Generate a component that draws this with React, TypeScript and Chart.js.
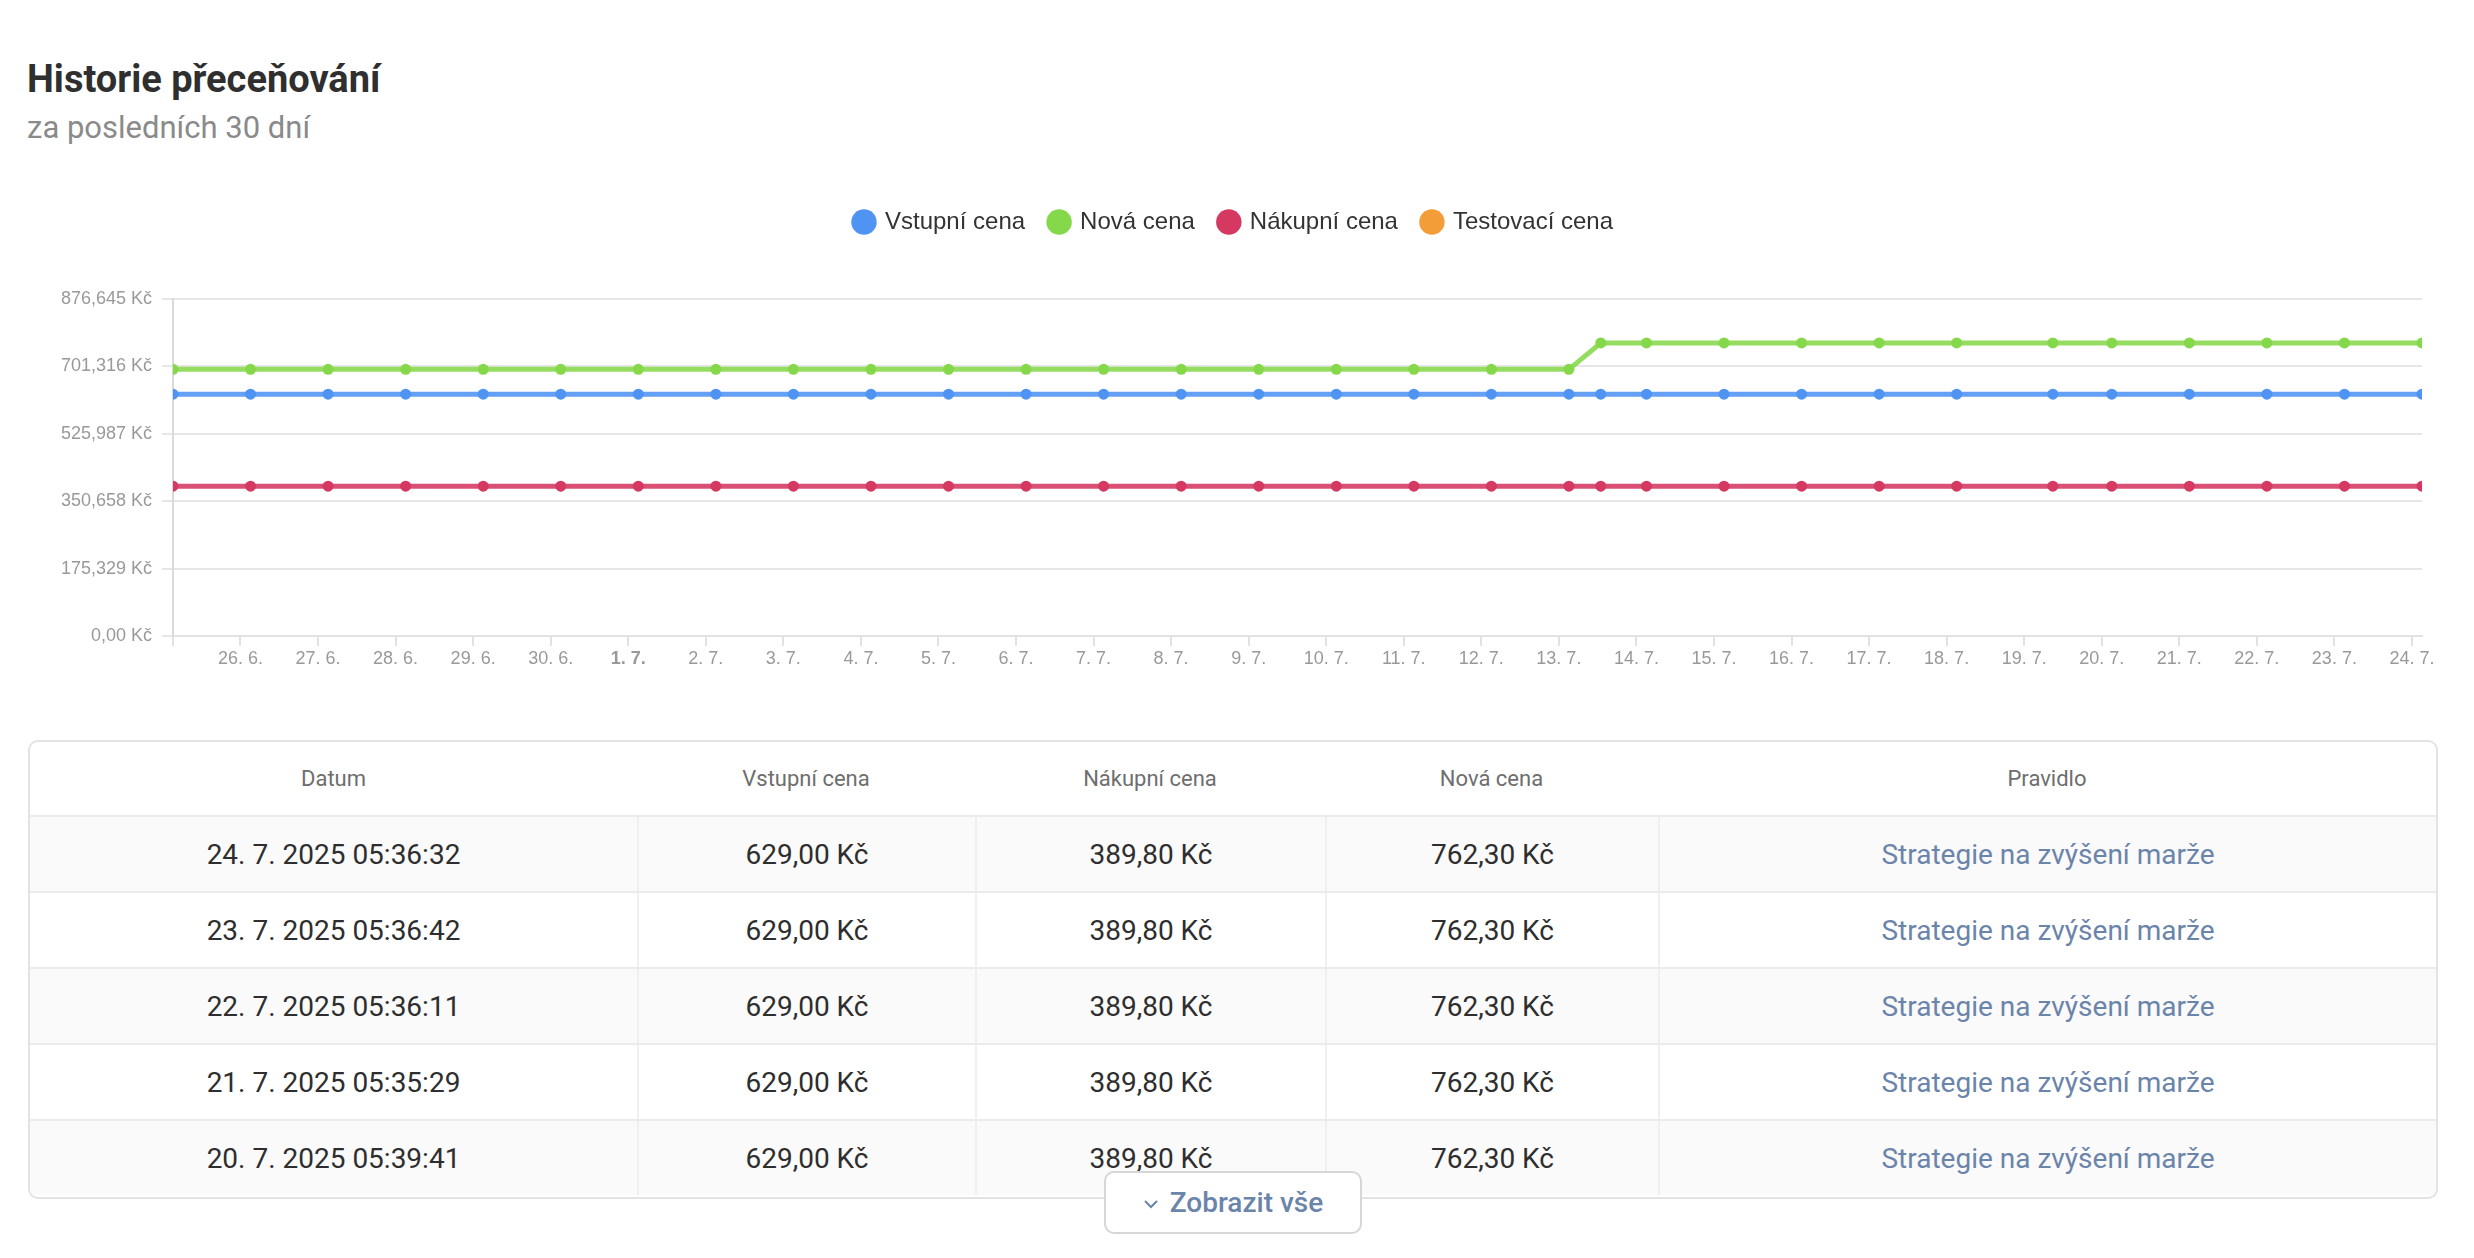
import React, { useEffect, useRef } from 'react';
import { Chart, registerables } from 'chart.js';

Chart.register(...registerables);

const CHART_FONT = '"Liberation Sans", Arial, Helvetica, sans-serif';
const UI_FONT = 'Roboto, "Noto Sans", sans-serif';

// ---------- chart data ----------
const axisStartDate = '2025-06-25';

const timestamps = [
  '2025-06-25 03:07', '2025-06-26 03:07', '2025-06-27 03:07', '2025-06-28 03:07',
  '2025-06-29 03:07', '2025-06-30 03:07', '2025-07-01 03:07', '2025-07-02 03:07',
  '2025-07-03 03:07', '2025-07-04 03:07', '2025-07-05 03:07', '2025-07-06 03:07',
  '2025-07-07 03:07', '2025-07-08 03:07', '2025-07-09 03:07', '2025-07-10 03:07',
  '2025-07-11 03:07', '2025-07-12 03:07', '2025-07-13 03:07', '2025-07-13 12:58',
  '2025-07-14 03:07', '2025-07-15 03:07', '2025-07-16 03:07', '2025-07-17 03:07',
  '2025-07-18 03:07', '2025-07-19 08:53', '2025-07-20 03:07', '2025-07-21 03:07',
  '2025-07-22 03:07', '2025-07-23 03:07', '2025-07-24 03:07',
];

const vstupniCena = [
  629, 629, 629, 629, 629, 629, 629, 629, 629, 629, 629, 629, 629, 629, 629, 629,
  629, 629, 629, 629, 629, 629, 629, 629, 629, 629, 629, 629, 629, 629, 629,
];

const novaCena = [
  693.6, 693.6, 693.6, 693.6, 693.6, 693.6, 693.6, 693.6, 693.6, 693.6, 693.6, 693.6,
  693.6, 693.6, 693.6, 693.6, 693.6, 693.6, 693.6, 762.3, 762.3, 762.3, 762.3, 762.3,
  762.3, 762.3, 762.3, 762.3, 762.3, 762.3, 762.3,
];

const nakupniCena = [
  389.8, 389.8, 389.8, 389.8, 389.8, 389.8, 389.8, 389.8, 389.8, 389.8, 389.8, 389.8,
  389.8, 389.8, 389.8, 389.8, 389.8, 389.8, 389.8, 389.8, 389.8, 389.8, 389.8, 389.8,
  389.8, 389.8, 389.8, 389.8, 389.8, 389.8, 389.8,
];

const testovaciCena: number[] = [];

const seriesLabels = ['Vstupní cena', 'Nová cena', 'Nákupní cena', 'Testovací cena'];

const xTickDates = [
  '2025-06-26', '2025-06-27', '2025-06-28', '2025-06-29', '2025-06-30', '2025-07-01',
  '2025-07-02', '2025-07-03', '2025-07-04', '2025-07-05', '2025-07-06', '2025-07-07',
  '2025-07-08', '2025-07-09', '2025-07-10', '2025-07-11', '2025-07-12', '2025-07-13',
  '2025-07-14', '2025-07-15', '2025-07-16', '2025-07-17', '2025-07-18', '2025-07-19',
  '2025-07-20', '2025-07-21', '2025-07-22', '2025-07-23', '2025-07-24',
];

const xTickLabels = [
  '26. 6.', '27. 6.', '28. 6.', '29. 6.', '30. 6.', '1. 7.', '2. 7.', '3. 7.', '4. 7.',
  '5. 7.', '6. 7.', '7. 7.', '8. 7.', '9. 7.', '10. 7.', '11. 7.', '12. 7.', '13. 7.',
  '14. 7.', '15. 7.', '16. 7.', '17. 7.', '18. 7.', '19. 7.', '20. 7.', '21. 7.',
  '22. 7.', '23. 7.', '24. 7.',
];

const boldTickLabels = ['1. 7.'];

const yTickValues = [0, 175.329, 350.658, 525.987, 701.316, 876.645];

// ---------- table data ----------
const tableHeaders = ['Datum', 'Vstupní cena', 'Nákupní cena', 'Nová cena', 'Pravidlo'];
const tableDates = [
  '24. 7. 2025 05:36:32',
  '23. 7. 2025 05:36:42',
  '22. 7. 2025 05:36:11',
  '21. 7. 2025 05:35:29',
  '20. 7. 2025 05:39:41',
];
const tableVstupni = ['629,00 Kč', '629,00 Kč', '629,00 Kč', '629,00 Kč', '629,00 Kč'];
const tableNakupni = ['389,80 Kč', '389,80 Kč', '389,80 Kč', '389,80 Kč', '389,80 Kč'];
const tableNova = ['762,30 Kč', '762,30 Kč', '762,30 Kč', '762,30 Kč', '762,30 Kč'];
const tablePravidlo = [
  'Strategie na zvýšení marže',
  'Strategie na zvýšení marže',
  'Strategie na zvýšení marže',
  'Strategie na zvýšení marže',
  'Strategie na zvýšení marže',
];

// ---------- helpers ----------
function parseMs(ts: string): number {
  const [datePart, timePart = '00:00'] = ts.split(' ');
  const [y, m, d] = datePart.split('-').map(Number);
  const [hh, mm] = timePart.split(':').map(Number);
  return Date.UTC(y, m - 1, d, hh, mm);
}
const baseMs = parseMs(axisStartDate);
const dayOffset = (ts: string) => (parseMs(ts) - baseMs) / 86400000;

function formatKc(v: number): string {
  let s = v.toFixed(3);
  if (s.endsWith('0')) s = s.slice(0, -1);
  return s.replace('.', ',') + ' Kč';
}

const COLORS = {
  blue: '#4f93f3',
  blueLine: 'rgba(79,147,243,0.88)',
  green: '#86d84b',
  greenLine: 'rgba(134,216,75,0.88)',
  red: '#d53861',
  redLine: 'rgba(213,56,97,0.88)',
  orange: '#f29d38',
};

const legendSpacer = {
  id: 'legendSpacer',
  beforeLayout(chart: any) {
    const lg = chart.legend;
    if (lg && !lg.__patched) {
      const orig = lg.fit;
      lg.fit = function () {
        orig.call(this);
        this.height += 55;
      };
      lg.__patched = true;
    }
  },
};

const columnWidths = [607, 338, 350, 333, 778];

export default function App() {
  const canvasRef = useRef<HTMLCanvasElement>(null);

  useEffect(() => {
    document.body.style.margin = '0';
    const xs = timestamps.map(dayOffset);
    const xTickDays = xTickDates.map(dayOffset);
    const labelFor = (value: number) => {
      const i = xTickDays.indexOf(value);
      return i >= 0 ? xTickLabels[i] : '';
    };
    const mk = (vals: number[]) => vals.map((y, i) => ({ x: xs[i], y }));

    const lineCommon = {
      borderWidth: 5,
      pointRadius: 5.5,
      pointHoverRadius: 5.5,
      pointBorderWidth: 0,
      tension: 0,
      fill: false,
    };

    const config: any = {
      type: 'line',
      data: {
        datasets: [
          {
            ...lineCommon,
            label: seriesLabels[0],
            data: mk(vstupniCena),
            borderColor: COLORS.blueLine,
            backgroundColor: COLORS.blue,
            pointBackgroundColor: COLORS.blue,
          },
          {
            ...lineCommon,
            label: seriesLabels[1],
            data: mk(novaCena),
            borderColor: COLORS.greenLine,
            backgroundColor: COLORS.green,
            pointBackgroundColor: COLORS.green,
          },
          {
            ...lineCommon,
            label: seriesLabels[2],
            data: mk(nakupniCena),
            borderColor: COLORS.redLine,
            backgroundColor: COLORS.red,
            pointBackgroundColor: COLORS.red,
          },
          {
            ...lineCommon,
            label: seriesLabels[3],
            data: mk(testovaciCena),
            borderColor: COLORS.orange,
            backgroundColor: COLORS.orange,
            pointBackgroundColor: COLORS.orange,
          },
        ],
      },
      options: {
        responsive: false,
        animation: false,
        devicePixelRatio: 1,
        layout: { padding: { left: 18, right: 16, top: 25, bottom: 4 } },
        plugins: {
          tooltip: { enabled: false },
          legend: {
            position: 'top',
            labels: {
              usePointStyle: true,
              pointStyle: 'circle',
              boxWidth: 18,
              boxHeight: 18,
              padding: 25,
              color: '#333333',
              font: { family: CHART_FONT, size: 24 },
              generateLabels: (chart: any) =>
                (Chart.defaults as any).plugins.legend.labels
                  .generateLabels(chart)
                  .map((l: any) => ({ ...l, lineWidth: 0, strokeStyle: l.fillStyle, pointStyle: 'circle' })),
            },
          },
        },
        scales: {
          x: {
            type: 'linear',
            min: xs[0],
            max: xs[xs.length - 1],
            afterBuildTicks: (axis: any) => {
              axis.ticks = [{ value: xs[0] }, ...xTickDays.map((v) => ({ value: v }))];
            },
            afterFit: (scale: any) => {
              scale.height = 60;
            },
            ticks: {
              autoSkip: false,
              maxRotation: 0,
              minRotation: 0,
              padding: 2,
              color: '#999999',
              font: (ctx: any) => ({
                family: CHART_FONT,
                size: 18,
                weight: boldTickLabels.includes(labelFor(ctx.tick ? ctx.tick.value : NaN)) ? 'bold' : 'normal',
              }),
              callback: (value: number) => labelFor(value),
            },
            grid: { drawOnChartArea: false, drawTicks: true, tickLength: 10, color: '#e2e2e2', lineWidth: 2 },
            border: { display: true, color: '#e2e2e2', width: 2 },
          },
          y: {
            min: yTickValues[0],
            max: yTickValues[yTickValues.length - 1],
            afterBuildTicks: (axis: any) => {
              axis.ticks = yTickValues.map((v) => ({ value: v }));
            },
            afterFit: (scale: any) => {
              scale.width = 127;
            },
            ticks: {
              padding: 10,
              color: '#999999',
              font: { family: CHART_FONT, size: 18 },
              callback: (value: number) => formatKc(value),
            },
            grid: { color: '#e6e6e6', lineWidth: 2, tickLength: 11 },
            border: { display: true, color: '#dadada', width: 2 },
          },
        },
      },
      plugins: [legendSpacer],
    };

    const chart = new Chart(canvasRef.current as HTMLCanvasElement, config);
    return () => chart.destroy();
  }, []);

  const rows = tableDates.map((d, i) => [d, tableVstupni[i], tableNakupni[i], tableNova[i], tablePravidlo[i]]);

  return (
    <div
      style={{
        position: 'absolute',
        left: 0,
        top: 0,
        width: 2474,
        height: 1258,
        background: '#ffffff',
        fontFamily: UI_FONT,
        overflow: 'hidden',
      }}
    >
      <div
        style={{
          position: 'absolute',
          left: 27,
          top: 60,
          fontSize: 38,
          lineHeight: 1,
          fontWeight: 700,
          color: '#2f2f2f',
          whiteSpace: 'nowrap',
        }}
      >
        Historie přeceňování
      </div>
      <div
        style={{
          position: 'absolute',
          left: 27,
          top: 112,
          fontSize: 31,
          lineHeight: 1,
          color: '#8a8a8a',
          whiteSpace: 'nowrap',
        }}
      >
        za posledních 30 dní
      </div>

      <canvas
        ref={canvasRef}
        width={2410}
        height={540}
        style={{ position: 'absolute', left: 28, top: 160, width: 2410, height: 540 }}
      />

      <div
        style={{
          position: 'absolute',
          left: 28,
          top: 740,
          width: 2410,
          height: 459,
          boxSizing: 'border-box',
          border: '2px solid #e3e3e3',
          borderRadius: 10,
          overflow: 'hidden',
          background: '#ffffff',
        }}
      >
        <div style={{ display: 'flex', height: 73 }}>
          {tableHeaders.map((h, c) => (
            <div
              key={h}
              style={{
                width: columnWidths[c],
                display: 'flex',
                alignItems: 'center',
                justifyContent: 'center',
                fontSize: 22,
                color: '#6e6e6e',
              }}
            >
              {h}
            </div>
          ))}
        </div>
        {rows.map((r, ri) => (
          <div
            key={ri}
            style={{
              display: 'flex',
              height: 76,
              boxSizing: 'border-box',
              borderTop: '2px solid #ebebeb',
              background: ri % 2 === 0 ? '#fafafa' : '#ffffff',
            }}
          >
            {r.map((cell, c) => (
              <div
                key={c}
                style={{
                  width: columnWidths[c],
                  boxSizing: 'border-box',
                  borderLeft: c > 0 ? '2px solid #efefef' : 'none',
                  display: 'flex',
                  alignItems: 'center',
                  justifyContent: 'center',
                  fontSize: 28,
                  color: c === 4 ? '#6b84aa' : '#2e2e2e',
                  whiteSpace: 'nowrap',
                }}
              >
                {cell}
              </div>
            ))}
          </div>
        ))}
      </div>

      <div
        style={{
          position: 'absolute',
          left: 1104,
          top: 1171,
          width: 258,
          height: 63,
          boxSizing: 'border-box',
          border: '2px solid #d6d6d6',
          borderRadius: 10,
          background: '#ffffff',
          display: 'flex',
          alignItems: 'center',
          justifyContent: 'center',
          gap: 11,
          color: '#6b84aa',
          fontSize: 28,
          fontWeight: 500,
        }}
      >
        <svg width="16" height="10" viewBox="0 0 16 10" style={{ marginTop: 2 }}>
          <polyline points="2,2 8,8 14,2" fill="none" stroke="#6b84aa" strokeWidth="2" />
        </svg>
        <span>Zobrazit vše</span>
      </div>
    </div>
  );
}
